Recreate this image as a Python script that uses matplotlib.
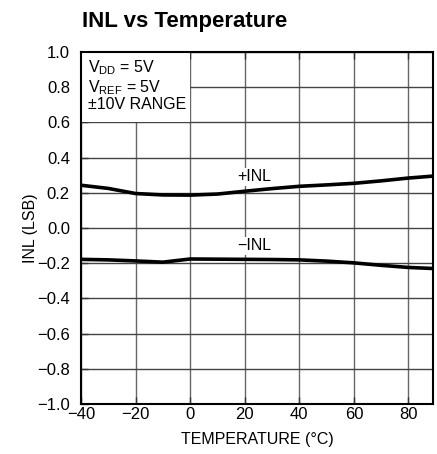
import matplotlib
matplotlib.use('Agg')
import matplotlib.pyplot as plt
from matplotlib.patches import Rectangle

plt.rcParams['font.family'] = ['Liberation Sans', 'DejaVu Sans']
plt.rcParams['mathtext.fontset'] = 'custom'
plt.rcParams['mathtext.rm'] = 'Liberation Sans'

# data
temp = [-40, -30, -20, -10, 0, 10, 20, 30, 40, 50, 60, 70, 80, 89]
inl_pos = [0.243, 0.225, 0.196, 0.188, 0.187, 0.193, 0.209, 0.224, 0.237, 0.245, 0.254, 0.268, 0.284, 0.295]
inl_neg = [-0.178, -0.181, -0.187, -0.194, -0.176, -0.177, -0.178, -0.179, -0.181, -0.188, -0.198, -0.212, -0.224, -0.230]

xticks = [-40, -20, 0, 20, 40, 60, 80]
yticks = [-1.0, -0.8, -0.6, -0.4, -0.2, 0.0, 0.2, 0.4, 0.6, 0.8, 1.0]

fig = plt.figure(figsize=(4.37, 4.54), dpi=100)
ax = fig.add_axes([0.1854, 0.1101, 0.8055, 0.7753])

ax.plot(temp, inl_pos, color='black', lw=2.6, zorder=2, solid_capstyle='butt')
ax.plot(temp, inl_neg, color='black', lw=2.6, zorder=2, solid_capstyle='butt')

ax.set_xlim(-40, 89)
ax.set_ylim(-1.0, 1.0)
ax.set_xticks(xticks)
ax.set_yticks(yticks)
ax.set_xticklabels([f'{t:d}'.replace('-', '\u2212') for t in xticks])
ax.set_yticklabels([f'{t:.1f}'.replace('-', '\u2212') for t in yticks])
ax.grid(True, color='#444444', lw=1.0, zorder=1.5)
ax.xaxis.grid(True, color='#666666')
ax.tick_params(direction='in', length=5, width=1, labelsize=12, color='#333333',
               top=True, right=False)
ax.tick_params(axis='y', pad=8)
ax.tick_params(axis='x', pad=2)
for s in ax.spines.values():
    s.set_linewidth(1.5)
    s.set_zorder(5)

# white box behind the conditions text
ax.add_patch(Rectangle((-40, 0.6), 40, 0.4, facecolor='white', edgecolor='none', zorder=1.8))
ax.text(-37.5, 0.91, r'V$_{\mathregular{DD}}$ = 5V', fontsize=11.5, va='center', zorder=3)
ax.text(-37.5, 0.795, r'V$_{\mathregular{REF}}$ = 5V', fontsize=11.5, va='center', zorder=3)
ax.text(-37.5, 0.70, '\u00b110V RANGE', fontsize=11.5, va='center', zorder=3)

ax.text(23.5, 0.29, '+INL', fontsize=11.5, ha='center', va='center', zorder=1.9,
        bbox=dict(facecolor='white', edgecolor='none', pad=1))
ax.text(23.5, -0.10, '\u2212INL', fontsize=11.5, ha='center', va='center', zorder=1.9,
        bbox=dict(facecolor='white', edgecolor='none', pad=1))

ax.set_xlabel('TEMPERATURE (\u00b0C)', fontsize=11.5, labelpad=7)
ax.set_ylabel('INL (LSB)', fontsize=11.5, labelpad=-1)
fig.text(0.187, 0.952, 'INL vs Temperature', fontsize=16, fontweight='bold', va='center')

fig.savefig('out.png', dpi=100)
